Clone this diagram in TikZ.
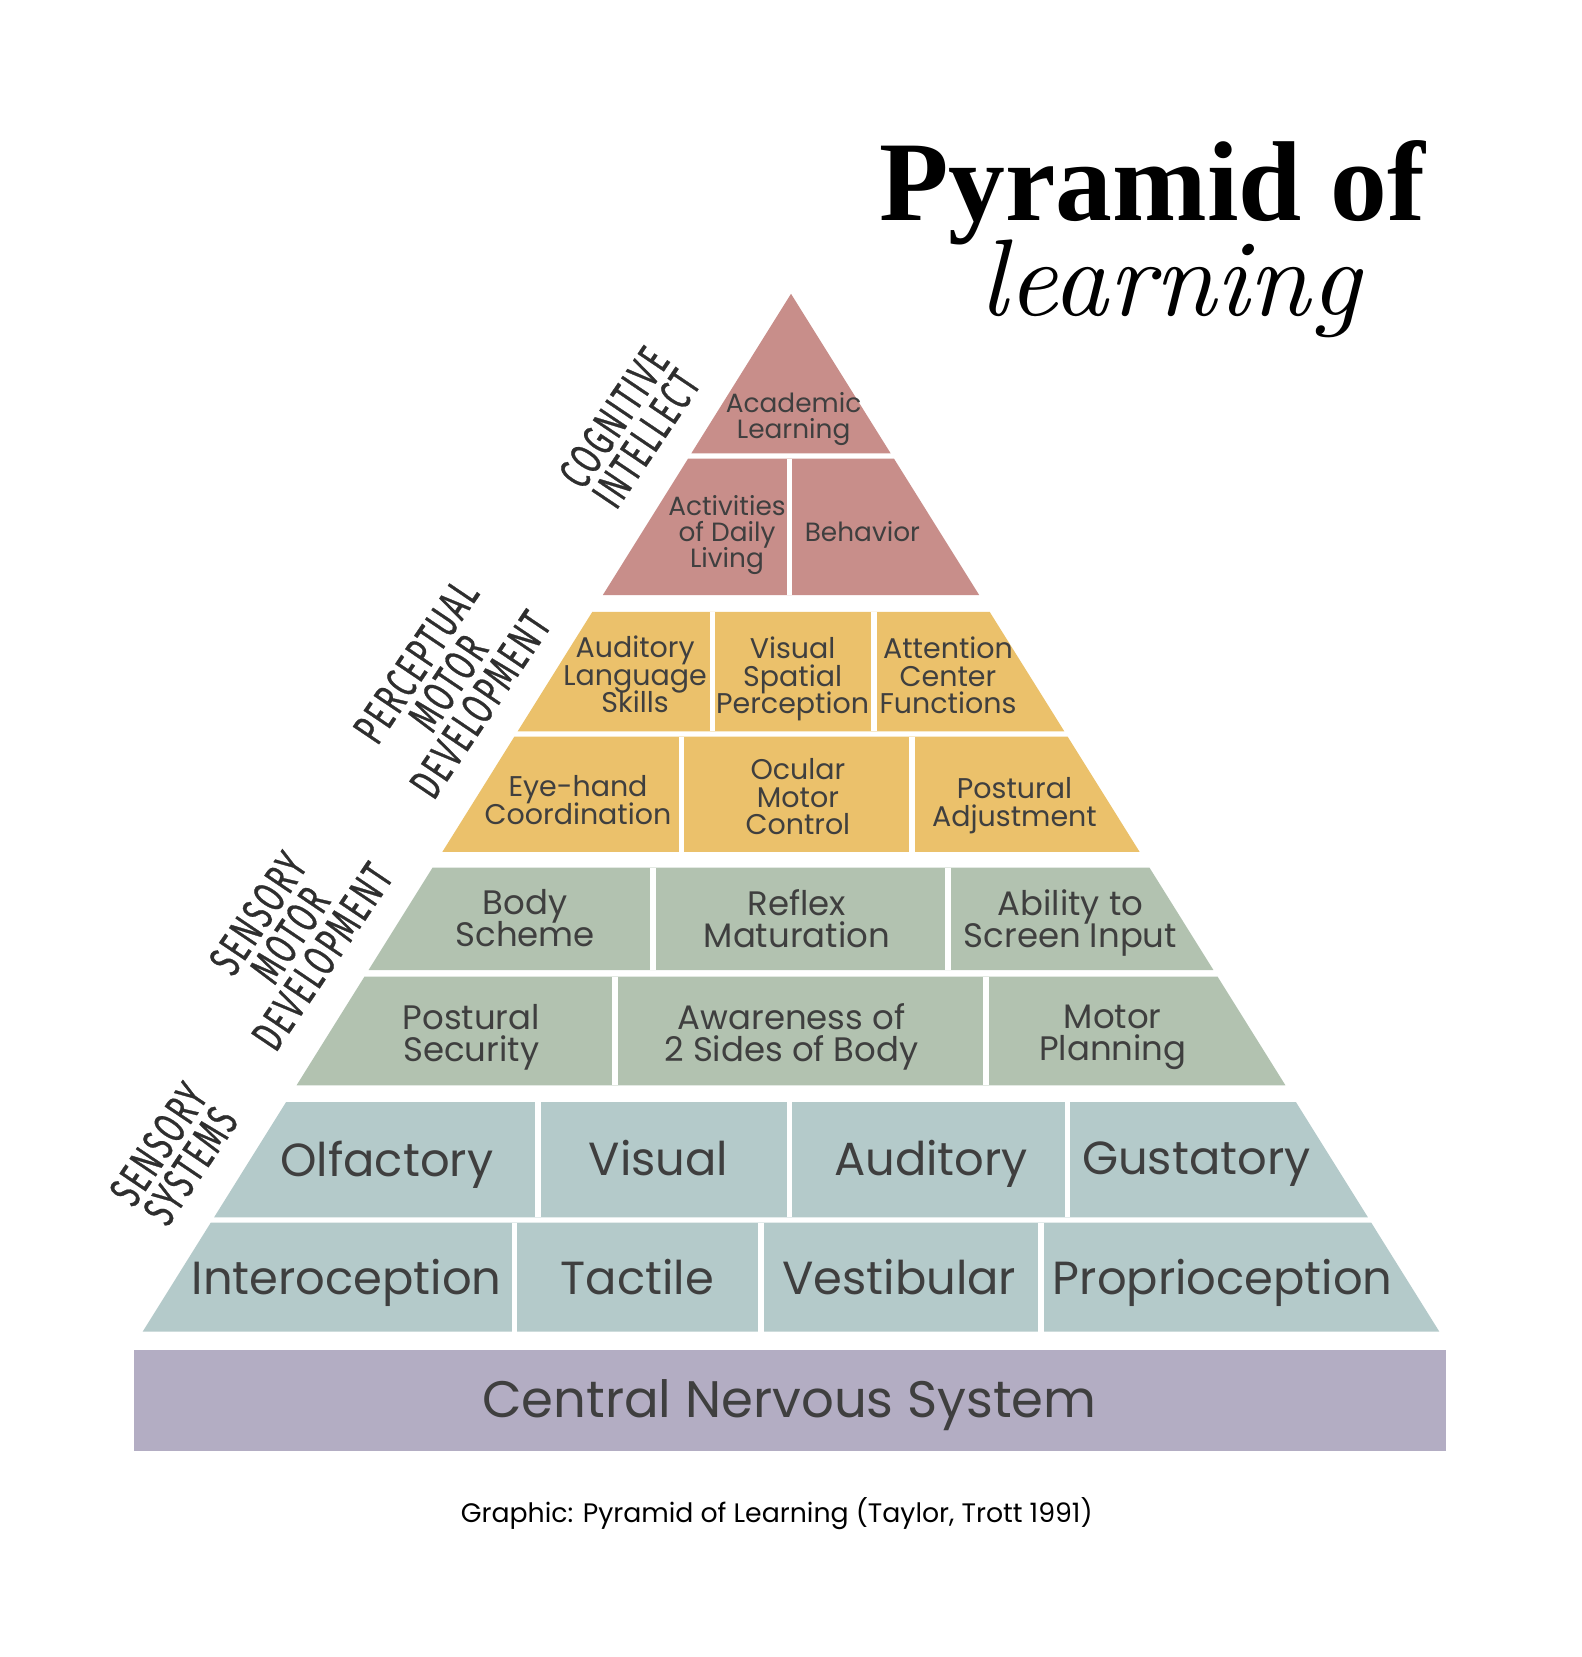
\documentclass[tikz,border=0pt]{standalone}
\usepackage{fontspec}
\setmainfont{Poppins}
\newfontfamily\titlefont{Liberation Serif}
\newfontfamily\learnfont{lmroman10-italic.otf}
\newfontfamily\sidefont[FakeStretch=0.64, LetterSpace=5, FakeBold=0.6]{Fira Sans}
\usetikzlibrary{positioning}
\setlength{\lineskiplimit}{-50pt}
\definecolor{rosebrick}{HTML}{C88E8A}
\definecolor{mustard}{HTML}{EBC16B}
\definecolor{sage}{HTML}{B2C2B0}
\definecolor{mistblue}{HTML}{B4CACA}
\definecolor{lavender}{HTML}{B3ADC3}
\definecolor{inkgray}{HTML}{3F3F3F}
\tikzset{
    gap/.style={draw=white, line width=1.5pt},
    celltext/.style={align=center, text=inkgray, inner sep=0pt, text depth=0pt},
    smalltext/.style={celltext, font=\fontsize{7.5pt}{7.4pt}\selectfont},
    midtext/.style={celltext, font=\fontsize{8.1pt}{7.8pt}\selectfont},
    bigtext/.style={celltext, font=\fontsize{9.65pt}{9.1pt}\selectfont},
    largetext/.style={celltext, font=\fontsize{13.2pt}{14pt}\selectfont},
    sidelabel/.style={
        align=center, rotate=56, inner sep=0pt, text=black!82,
        font=\sidefont\fontsize{13pt}{11pt}\selectfont
    }
}
% one band of the pyramid: top, bottom, colour
\newcommand{\pyrband}[3]{%
    \pgfmathsetmacro{\bandtl}{791-0.6247*(#1-293.8)}%
    \pgfmathsetmacro{\bandtr}{791+0.6247*(#1-293.8)}%
    \pgfmathsetmacro{\bandbl}{791-0.6247*(#2-293.8)}%
    \pgfmathsetmacro{\bandbr}{791+0.6247*(#2-293.8)}%
    \fill[#3] (\bandtl,#1) -- (\bandtr,#1) -- (\bandbr,#2) -- (\bandbl,#2) -- cycle;
}

\begin{document}
\begin{tikzpicture}[x=0.01cm, y=-0.01cm]
\useasboundingbox[fill=white] (0,0) rectangle (1581,1657);

% Title
\node[anchor=base, inner sep=0pt, font=\titlefont\bfseries\fontsize{32.3pt}{32pt}\selectfont] (title) at (1152,220) {Pyramid of};
\node[anchor=base, inner sep=0pt, font=\learnfont\fontsize{31pt}{31pt}\selectfont] (subtitle) at (1170,315) {learning};

% Cognitive intellect
\pyrband{293.8}{453.4}{rosebrick}
\pyrband{458.7}{595.0}{rosebrick}
\draw[gap] (789.4,458.7) -- (789.4,595.0);
\node[smalltext] (academic) at (793.6,415.3) {Academic\\Learning};
\node[smalltext] (daily) at (727,531.6) {Activities\\of Daily\\Living};
\node[smalltext] (behavior) at (862.4,531.6) {Behavior};

% Perceptual motor development
\pyrband{611.9}{731.3}{mustard}
\pyrband{736.6}{851.8}{mustard}
\foreach \x in {712.3,874.0} \draw[gap] (\x,611.9) -- (\x,731.3);
\foreach \x in {681.6,912.0} \draw[gap] (\x,736.6) -- (\x,851.8);
\node[midtext] (auditorylang) at (635.1,674.2) {Auditory\\Language\\Skills};
\node[midtext] (visualspatial) at (792.6,675.3) {Visual\\Spatial\\Perception};
\node[midtext] (attention) at (948,675.3) {Attention\\Center\\Functions};
\node[midtext] (eyehand) at (578,800) {Eye-hand\\Coordination};
\node[midtext] (ocular) at (797.9,796.8) {Ocular\\Motor\\Control};
\node[midtext] (posturaladj) at (1014.5,802.1) {Postural\\Adjustment};

% Sensory motor development
\pyrband{867.6}{970.1}{sage}
\pyrband{976.5}{1085.3}{sage}
\foreach \x in {653.1,948.0} \draw[gap] (\x,867.6) -- (\x,970.1);
\foreach \x in {615.1,986.0} \draw[gap] (\x,976.5) -- (\x,1085.3);
\node[bigtext] (bodyscheme) at (525.2,918.4) {Body\\Scheme};
\node[bigtext] (reflex) at (796.8,918.4) {Reflex\\Maturation};
\node[bigtext] (screen) at (1070.5,918.4) {Ability to\\Screen Input};
\node[bigtext] (posturalsec) at (471.3,1032.5) {Postural\\Security};
\node[bigtext] (awareness) at (791.5,1032.5) {Awareness of\\2 Sides of Body};
\node[bigtext] (motorplan) at (1112.8,1032.5) {Motor\\Planning};

% Sensory systems
\pyrband{1102.2}{1217.4}{mistblue}
\pyrband{1222.7}{1331.6}{mistblue}
\foreach \x in {537.9,789.4,1067.4} \draw[gap] (\x,1102.2) -- (\x,1217.4);
\foreach \x in {514.7,760.9,1041.0} \draw[gap] (\x,1222.7) -- (\x,1331.6);
\node[largetext] (olfactory) at (386.8,1158.3) {Olfactory};
\node[largetext] (visual) at (658.4,1158.3) {Visual};
\node[largetext] (auditory) at (931,1158.3) {Auditory};
\node[largetext] (gustatory) at (1196.3,1158.3) {Gustatory};
\node[largetext] (intero) at (346.6,1276.6) {Interoception};
\node[largetext] (tactile) at (637.3,1276.6) {Tactile};
\node[largetext] (vestibular) at (899.3,1276.6) {Vestibular};
\node[largetext] (proprio) at (1222.7,1276.6) {Proprioception};

% Central nervous system
\fill[lavender] (134.2,1349.5) rectangle (1445.7,1451.0);
\node[celltext, font=\fontsize{14.6pt}{15pt}\selectfont] (cns) at (789.4,1398.1) {Central Nervous System};

% Side labels
\node[sidelabel] (cognitive) at (630,428) {COGNITIVE\\INTELLECT};
\node[sidelabel] (perceptual) at (448,683) {PERCEPTUAL\\MOTOR\\DEVELOPMENT};
\node[sidelabel] (sensorymotor) at (290,935) {SENSORY\\MOTOR\\DEVELOPMENT};
\node[sidelabel] (sensorysys) at (174.4,1155) {SENSORY\\SYSTEMS};

% Caption
\node[inner sep=0pt, font=\fontsize{7.6pt}{8pt}\selectfont] (caption) at (776.7,1513.3) {Graphic: Pyramid of Learning (Taylor, Trott 1991)};

\end{tikzpicture}
\end{document}
